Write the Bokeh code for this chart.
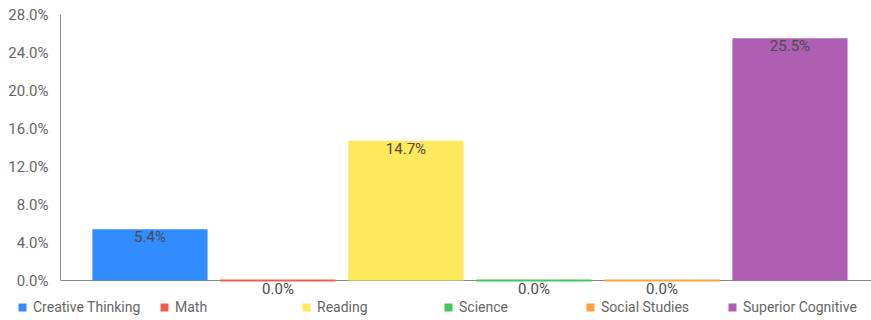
from bokeh.plotting import figure
from bokeh.layouts import column
from bokeh.models import (ColumnDataSource, Range1d, FixedTicker, PrintfTickFormatter,
                          LabelSet, Legend, LegendItem, Span)
from bokeh.core.properties import value
from bokeh.embed import file_html
from bokeh.resources import INLINE

categories = ["Creative Thinking", "Math", "Reading", "Science", "Social Studies", "Superior Cognitive"]
values = [5.4, 0.0, 14.7, 0.0, 0.0, 25.5]
colors = ["#318cff", "#f25c4e", "#fee85b", "#47c45e", "#fea33f", "#ae5fb4"]
y_ticks = [0, 4, 8, 12, 16, 20, 24, 28]

FONT = "Roboto"

W = 871
MAIN_H, LEG_H = 298, 22
TOP, ZERO_Y = 14, 280          # pixel rows of the 28% tick and the 0% baseline
px_per_unit = (ZERO_Y - TOP) / 28.0
y_min = -(MAIN_H - ZERO_Y) / px_per_unit   # frame extends below 0 so value labels are not clipped

xs = list(range(len(categories)))
src = ColumnDataSource(dict(
    x=xs, top=values, color=colors, cat=categories,
    label=[f"{v:.1f}%" for v in values],
))
zero_idx = [i for i, v in enumerate(values) if v == 0]
zsrc = ColumnDataSource(dict(
    x=[xs[i] for i in zero_idx], y=[0.0] * len(zero_idx), color=[colors[i] for i in zero_idx],
))

p = figure(width=W, height=MAIN_H, x_range=Range1d(-0.699, 5.637), y_range=Range1d(y_min, 28),
           output_backend="svg", toolbar_location=None, x_axis_location=None,
           min_border_left=60, min_border_right=0, min_border_top=TOP, min_border_bottom=0)
p.frame_align = False
p.outline_line_color = None
p.xgrid.visible = False
p.ygrid.visible = False

ax = p.yaxis[0]
ax.bounds = (0, 28)
ax.ticker = FixedTicker(ticks=y_ticks)
ax.formatter = PrintfTickFormatter(format="%.1f%%")
ax.major_tick_line_color = None
ax.minor_tick_line_color = None
ax.axis_line_color = "#888888"
ax.major_label_text_font = FONT
ax.major_label_text_font_size = "15px"
ax.major_label_text_color = "#666666"
ax.major_label_standoff = 6

p.vbar(x="x", top="top", bottom=0, width=0.9, fill_color="color", line_color=None, source=src)

p.add_layout(Span(location=0, dimension="width", line_color="#888888", line_width=1, level="underlay"))
p.rect(x="x", y="y", width=0.9, height=2, height_units="screen", fill_color="color", line_color=None, source=zsrc)

labels = LabelSet(x="x", y="top", text="label", source=src, text_align="center", text_baseline="top",
                  y_offset=1, text_font=value(FONT), text_font_size="15px", text_color="#4a4a4a")
p.add_layout(labels)

# legend strip below the chart
lp = figure(width=W, height=LEG_H, x_range=Range1d(-0.699, 5.637), y_range=Range1d(1000, 1001),
            output_backend="svg", toolbar_location=None, x_axis_location=None, y_axis_location=None,
            min_border_left=0, min_border_right=0, min_border_top=0, min_border_bottom=0)
lp.frame_align = False
lp.outline_line_color = None
lp.xgrid.visible = False
lp.ygrid.visible = False
lbars = lp.vbar(x="x", top="top", bottom=0, width=0.9, fill_color="color", line_color=None, source=src)

legend = Legend(items=[LegendItem(label=c, renderers=[lbars], index=i) for i, c in enumerate(categories)],
                orientation="horizontal", location=(17, 5), glyph_width=10, glyph_height=10,
                label_standoff=6, label_width=116, label_height=10, spacing=10, padding=0, margin=0,
                border_line_color=None, background_fill_alpha=0,
                label_text_font=FONT, label_text_font_size="14px", label_text_color="#666666")
lp.add_layout(legend, "center")

layout = column(p, lp, spacing=0)
open("out.html", "w").write(file_html(layout, INLINE))
